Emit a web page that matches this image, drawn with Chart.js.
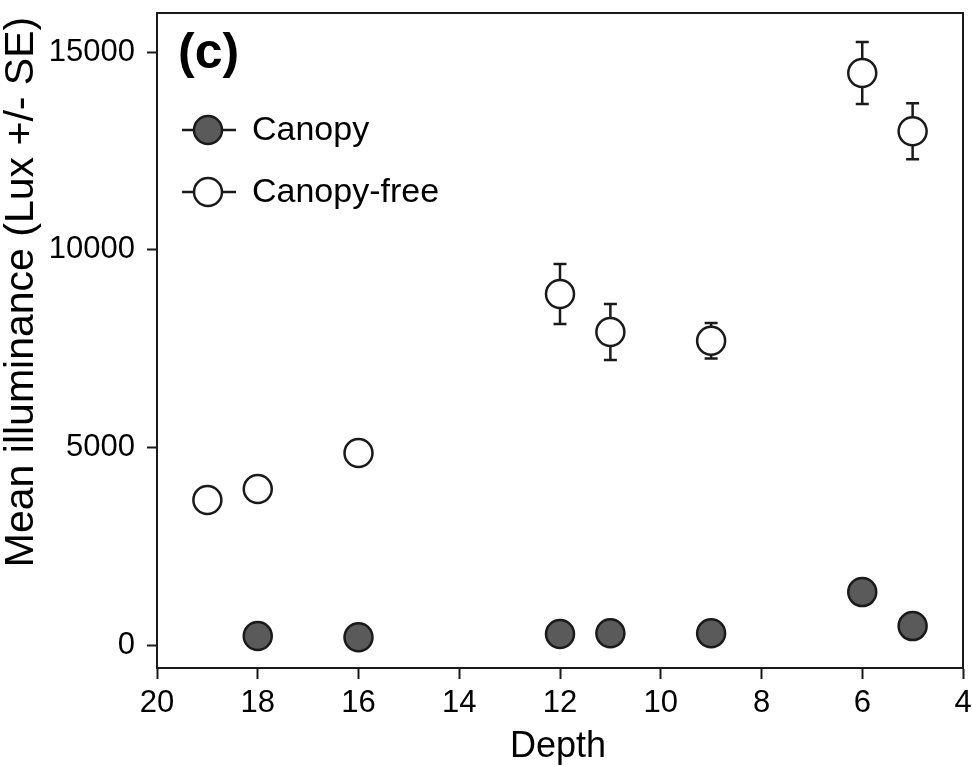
<!DOCTYPE html>
<html>
<head>
<meta charset="utf-8">
<script src="https://cdn.jsdelivr.net/npm/chart.js@4.4.1/dist/chart.umd.min.js"></script>
<style>
  body { margin: 0; background: #fff; }
</style>
</head>
<body>
<canvas id="chart" width="972" height="767"></canvas>
<script>
// Data (panel c)
const canopyDepth = [18, 16, 12, 11, 9, 6, 5];
const canopyMean = [230, 200, 280, 300, 300, 1340, 480];
const canopySE = [60, 50, 70, 80, 70, 250, 120];

const freeDepth = [19, 18, 16, 12, 11, 9, 6, 5];
const freeMean = [3670, 3950, 4860, 8880, 7920, 7700, 14470, 13000];
const freeSE = [250, 230, 280, 760, 710, 450, 785, 710];

const xTicks = [20, 18, 16, 14, 12, 10, 8, 6, 4];
const yTicks = [0, 5000, 10000, 15000];

const FONT = "'Liberation Sans', Arial, sans-serif";
const INK = '#1a1a1a';
const CANOPY_FILL = '#5a5a5a';

function toPoints(xs, ys) {
    return xs.map((x, i) => ({ x: x, y: ys[i] }));
}

// Error bars drawn under the markers so the circle hides the middle part
const errorBars = {
    id: 'errorBars',
    beforeDatasetsDraw(chart) {
        const ctx = chart.ctx;
        const yScale = chart.scales.y;
        ctx.save();
        ctx.strokeStyle = INK;
        ctx.lineWidth = 2.5;
        chart.data.datasets.forEach((ds, i) => {
            const meta = chart.getDatasetMeta(i);
            meta.data.forEach((el, j) => {
                const v = ds.data[j].y;
                const se = ds.se[j];
                const top = yScale.getPixelForValue(v + se);
                const bot = yScale.getPixelForValue(v - se);
                ctx.beginPath();
                ctx.moveTo(el.x, top);
                ctx.lineTo(el.x, bot);
                ctx.moveTo(el.x - 6.5, top);
                ctx.lineTo(el.x + 6.5, top);
                ctx.moveTo(el.x - 6.5, bot);
                ctx.lineTo(el.x + 6.5, bot);
                ctx.stroke();
            });
        });
        ctx.restore();
    }
};

// Box frame, panel label, legend and axis titles
const decorations = {
    id: 'decorations',
    afterDraw(chart) {
        const ctx = chart.ctx;
        const a = chart.chartArea;
        ctx.save();

        ctx.strokeStyle = INK;
        ctx.lineWidth = 2;
        ctx.strokeRect(a.left, a.top, a.right - a.left, a.bottom - a.top);

        ctx.fillStyle = '#000';
        ctx.font = 'bold 50px ' + FONT;
        ctx.textAlign = 'left';
        ctx.textBaseline = 'middle';
        ctx.fillText('(c)', 178, 54);

        const items = [
            { label: 'Canopy', fill: CANOPY_FILL, y: 130 },
            { label: 'Canopy-free', fill: '#ffffff', y: 192 }
        ];
        items.forEach(it => {
            ctx.strokeStyle = INK;
            ctx.lineWidth = 2.5;
            ctx.beginPath();
            ctx.moveTo(182, it.y);
            ctx.lineTo(236, it.y);
            ctx.stroke();
            ctx.beginPath();
            ctx.arc(208, it.y, 14, 0, Math.PI * 2);
            ctx.fillStyle = it.fill;
            ctx.fill();
            ctx.stroke();
            ctx.fillStyle = '#000';
            ctx.font = '34px ' + FONT;
            ctx.textBaseline = 'middle';
            ctx.fillText(it.label, 252, it.y + 1);
        });

        ctx.fillStyle = '#000';
        ctx.font = '36px ' + FONT;
        ctx.textAlign = 'center';
        ctx.textBaseline = 'alphabetic';
        ctx.fillText('Depth', 558, 757);

        ctx.translate(33, 292);
        ctx.rotate(-Math.PI / 2);
        ctx.font = '41px ' + FONT;
        ctx.fillText('Mean illuminance (Lux +/- SE)', 0, 0);
        ctx.restore();
    }
};

const ctx = document.getElementById('chart').getContext('2d');
new Chart(ctx, {
    type: 'scatter',
    data: {
        datasets: [
            {
                label: 'Canopy-free',
                data: toPoints(freeDepth, freeMean),
                se: freeSE,
                backgroundColor: '#ffffff',
                borderColor: INK,
                borderWidth: 2.5,
                pointRadius: 14,
                pointHoverRadius: 14
            },
            {
                label: 'Canopy',
                data: toPoints(canopyDepth, canopyMean),
                se: canopySE,
                backgroundColor: CANOPY_FILL,
                borderColor: INK,
                borderWidth: 2.5,
                pointRadius: 14,
                pointHoverRadius: 14
            }
        ]
    },
    options: {
        responsive: false,
        animation: false,
        layout: {
            autoPadding: false,
            padding: { top: 13, right: 9, left: 0, bottom: 0 }
        },
        plugins: {
            legend: { display: false },
            tooltip: { enabled: false }
        },
        scales: {
            x: {
                type: 'linear',
                reverse: true,
                min: 4,
                max: 20,
                afterBuildTicks: s => { s.ticks = xTicks.map(v => ({ value: v })); },
                afterFit: s => {
                    s.height = 99;
                    s.paddingLeft = 0;
                    s.paddingRight = 0;
                },
                grid: {
                    drawOnChartArea: false,
                    drawTicks: true,
                    tickLength: 11,
                    tickWidth: 2,
                    tickColor: INK
                },
                border: { display: true, color: INK, width: 2 },
                ticks: {
                    color: '#000',
                    padding: 6,
                    maxRotation: 0,
                    callback: v => String(v),
                    font: { family: FONT, size: 31 }
                }
            },
            y: {
                min: -580,
                max: 15990,
                afterBuildTicks: s => { s.ticks = yTicks.map(v => ({ value: v })); },
                afterFit: s => {
                    s.width = 157;
                    s.paddingTop = 0;
                    s.paddingBottom = 0;
                },
                grid: {
                    drawOnChartArea: false,
                    drawTicks: true,
                    tickLength: 10,
                    tickWidth: 2,
                    tickColor: INK
                },
                border: { display: true, color: INK, width: 2 },
                ticks: {
                    color: '#000',
                    padding: 12,
                    callback: v => String(v),
                    font: { family: FONT, size: 31 }
                }
            }
        }
    },
    plugins: [errorBars, decorations]
});
</script>
</body>
</html>
